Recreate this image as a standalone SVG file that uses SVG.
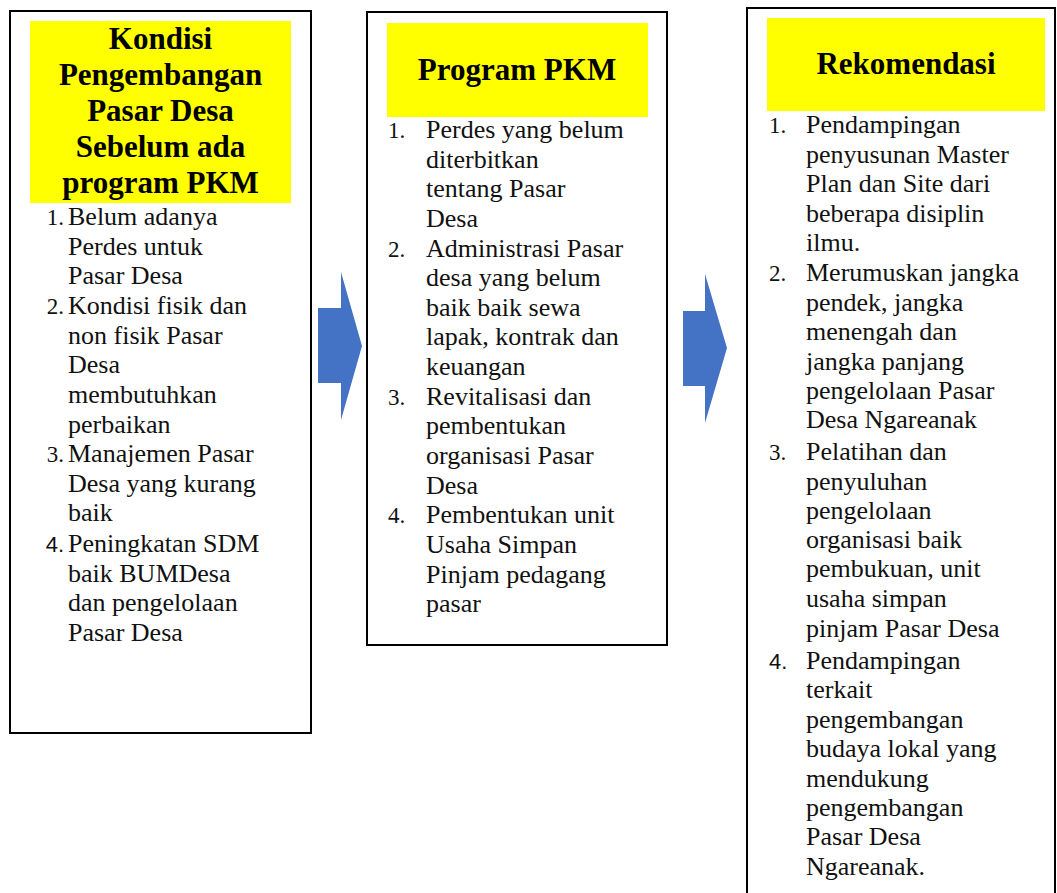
<svg xmlns="http://www.w3.org/2000/svg" width="1057" height="893" viewBox="0 0 1057 893">
<style>
.box{fill:#fff;stroke:#000;stroke-width:2}
.hl{fill:#ffff00}
.t{font-family:"Liberation Serif","Times New Roman",serif;font-size:31px;font-weight:bold;fill:#000;text-anchor:middle}
.b{font-family:"Liberation Serif","Times New Roman",serif;font-size:26px;fill:#111}
.n{font-family:"Liberation Serif","Times New Roman",serif;font-size:23px;fill:#111}
.ns{font-family:"Liberation Sans",Arial,sans-serif;font-size:22px;fill:#111}
.arr{fill:#4472c4}
</style>
<rect width="1057" height="893" fill="#fff"/>
<g id="node-kondisi">
<rect class="box" x="10" y="11" width="301" height="722"/>
<rect class="hl" x="30" y="21" width="261" height="182"/>
<text class="t" x="160.5" y="49">Kondisi</text>
<text class="t" x="160.5" y="85">Pengembangan</text>
<text class="t" x="160.5" y="121">Pasar Desa</text>
<text class="t" x="160.5" y="157">Sebelum ada</text>
<text class="t" x="160.5" y="193">program PKM</text>
<text class="n" x="64" y="225" text-anchor="end">1.</text>
<text class="b" x="68" y="225">Belum adanya</text>
<text class="b" x="68" y="255">Perdes untuk</text>
<text class="b" x="68" y="284">Pasar Desa</text>
<text class="n" x="64" y="314" text-anchor="end">2.</text>
<text class="b" x="68" y="314">Kondisi fisik dan</text>
<text class="b" x="68" y="344">non fisik Pasar</text>
<text class="b" x="68" y="373">Desa</text>
<text class="b" x="68" y="403">membutuhkan</text>
<text class="b" x="68" y="433">perbaikan</text>
<text class="n" x="64" y="462" text-anchor="end">3.</text>
<text class="b" x="68" y="462">Manajemen Pasar</text>
<text class="b" x="68" y="492">Desa yang kurang</text>
<text class="b" x="68" y="521">baik</text>
<text class="ns" x="64" y="552" text-anchor="end">4.</text>
<text class="b" x="68" y="552">Peningkatan SDM</text>
<text class="b" x="68" y="582">baik BUMDesa</text>
<text class="b" x="68" y="611">dan pengelolaan</text>
<text class="b" x="68" y="641">Pasar Desa</text>
</g>
<g id="node-program">
<rect class="box" x="367" y="12" width="300" height="633"/>
<rect class="hl" x="387" y="23" width="261" height="94"/>
<text class="t" x="517" y="80">Program PKM</text>
<text class="n" x="388" y="138">1.</text>
<text class="b" x="426" y="138">Perdes yang belum</text>
<text class="b" x="426" y="168">diterbitkan</text>
<text class="b" x="426" y="197">tentang Pasar</text>
<text class="b" x="426" y="227">Desa</text>
<text class="n" x="388" y="257">2.</text>
<text class="b" x="426" y="257">Administrasi Pasar</text>
<text class="b" x="426" y="286">desa yang belum</text>
<text class="b" x="426" y="316">baik baik sewa</text>
<text class="b" x="426" y="345">lapak, kontrak dan</text>
<text class="b" x="426" y="375">keuangan</text>
<text class="n" x="388" y="405">3.</text>
<text class="b" x="426" y="405">Revitalisasi dan</text>
<text class="b" x="426" y="434">pembentukan</text>
<text class="b" x="426" y="464">organisasi Pasar</text>
<text class="b" x="426" y="494">Desa</text>
<text class="n" x="388" y="523">4.</text>
<text class="b" x="426" y="523">Pembentukan unit</text>
<text class="b" x="426" y="553">Usaha Simpan</text>
<text class="b" x="426" y="583">Pinjam pedagang</text>
<text class="b" x="426" y="612">pasar</text>
</g>
<g id="node-rekomendasi">
<rect class="box" x="747" y="8" width="308" height="900"/>
<rect class="hl" x="767" y="18" width="278" height="93"/>
<text class="t" x="906" y="74">Rekomendasi</text>
<text class="n" x="769" y="133">1.</text>
<text class="b" x="806" y="133">Pendampingan</text>
<text class="b" x="806" y="163">penyusunan Master</text>
<text class="b" x="806" y="192">Plan dan Site dari</text>
<text class="b" x="806" y="222">beberapa disiplin</text>
<text class="b" x="806" y="251">ilmu.</text>
<text class="n" x="769" y="281">2.</text>
<text class="b" x="806" y="281">Merumuskan jangka</text>
<text class="b" x="806" y="311">pendek, jangka</text>
<text class="b" x="806" y="340">menengah dan</text>
<text class="b" x="806" y="370">jangka panjang</text>
<text class="b" x="806" y="399">pengelolaan Pasar</text>
<text class="b" x="806" y="428">Desa Ngareanak</text>
<text class="n" x="769" y="460">3.</text>
<text class="b" x="806" y="460">Pelatihan dan</text>
<text class="b" x="806" y="490">penyuluhan</text>
<text class="b" x="806" y="519">pengelolaan</text>
<text class="b" x="806" y="548">organisasi baik</text>
<text class="b" x="806" y="577">pembukuan, unit</text>
<text class="b" x="806" y="607">usaha simpan</text>
<text class="b" x="806" y="637">pinjam Pasar Desa</text>
<text class="ns" x="769" y="669">4.</text>
<text class="b" x="806" y="669">Pendampingan</text>
<text class="b" x="806" y="698">terkait</text>
<text class="b" x="806" y="728">pengembangan</text>
<text class="b" x="806" y="757">budaya lokal yang</text>
<text class="b" x="806" y="787">mendukung</text>
<text class="b" x="806" y="816">pengembangan</text>
<text class="b" x="806" y="845">Pasar Desa</text>
<text class="b" x="806" y="875">Ngareanak.</text>
</g>
<g id="connectors">
<polygon class="arr" points="318,308 341,308 341,272 362,346 341,420 341,383 318,383"/>
<polygon class="arr" points="683,311 705,311 705,274 727,348 705,423 705,386 683,386"/>
</g>
</svg>
